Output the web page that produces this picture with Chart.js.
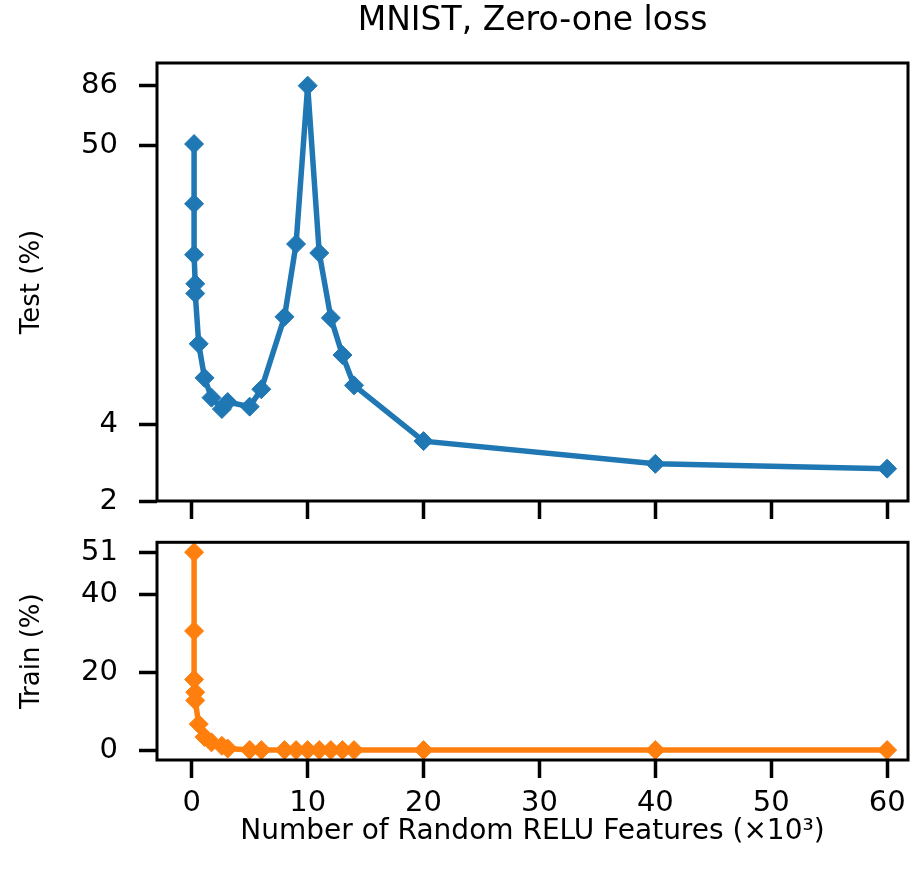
<!DOCTYPE html>
<html>
<head>
<meta charset="utf-8">
<script src="https://cdn.jsdelivr.net/npm/chart.js@4"></script>
<style>
  body { margin: 0; background: #fff; }
  #wrap { position: relative; width: 923px; height: 875px; }
  canvas { position: absolute; left: 0; }
</style>
</head>
<body>
<div id="wrap">
  <canvas id="testChart" width="923" height="545" style="top:0"></canvas>
  <canvas id="trainChart" width="923" height="375" style="top:500px"></canvas>
</div>
<script>
// number of random ReLU features, in thousands
const features = [0.2, 0.2, 0.2, 0.3, 0.3, 0.6, 1.1, 1.7, 2.6, 3.1, 5, 6, 8, 9, 10, 11, 12, 13, 14, 20, 40, 60];
// zero-one loss in %
const testErr = [50.7, 29.5, 18.6, 14.3, 13.1, 8.3, 6.1, 5.1, 4.6, 4.9, 4.7, 5.5, 10.6, 20.5, 86, 18.9, 10.5, 7.5, 5.7, 3.44, 2.8, 2.68];
const trainErr = [51, 30.7, 18.2, 14.9, 12.8, 6.7, 3.4, 2.0, 1.1, 0.4, 0.05, 0, 0, 0, 0, 0, 0, 0, 0, 0, 0, 0];

const xTicks = [0, 10, 20, 30, 40, 50, 60];
const testTicks = [2, 4, 50, 86];
const trainTicks = [0, 20, 40, 51];

const BLUE = '#1f77b4';
const ORANGE = '#ff7f0e';

Chart.defaults.font.family = 'DejaVu Sans';
Chart.defaults.color = '#000';

// black box around each plot area
const frame = {
  id: 'frame',
  afterDatasetsDraw(chart) {
    const { ctx, chartArea: a } = chart;
    ctx.save();
    ctx.strokeStyle = '#000';
    ctx.lineWidth = 3;
    ctx.strokeRect(a.left, a.top, a.right - a.left, a.bottom - a.top);
    ctx.restore();
  }
};

const tickGrid = {
  drawOnChartArea: false,
  drawTicks: true,
  tickLength: 18,
  tickWidth: 3.5,
  tickColor: '#000'
};

function points(ys) {
  return features.map((f, i) => ({ x: f, y: ys[i] }));
}

function dataset(ys, color) {
  return {
    data: points(ys),
    borderColor: color,
    backgroundColor: color,
    borderWidth: 5.5,
    pointStyle: 'rectRot',
    pointRadius: 9.5,
    pointBorderWidth: 1,
    pointBackgroundColor: color,
    pointBorderColor: color,
    tension: 0
  };
}

function xScale(showLabels, height) {
  return {
    type: 'linear',
    min: -3,
    max: 61.8,
    grid: tickGrid,
    border: { display: false },
    afterBuildTicks: s => { s.ticks = xTicks.map(v => ({ value: v })); },
    afterFit: s => { s.height = height; },
    ticks: {
      display: showLabels,
      padding: 8,
      font: { size: 29 },
      callback: v => String(v)
    },
    title: {
      display: showLabels,
      text: 'Number of Random RELU Features (\u00d710\u00b3)',
      font: { size: 28 },
      padding: { top: 0, bottom: 26 }
    }
  };
}

function yScale(type, min, max, ticks, label) {
  return {
    type: type,
    min: min,
    max: max,
    grid: tickGrid,
    border: { display: false },
    afterBuildTicks: s => { s.ticks = ticks.map(v => ({ value: v })); },
    afterFit: s => { s.width = 157; },
    ticks: {
      padding: 21,
      font: { size: 29 },
      callback: v => String(v)
    },
    title: {
      display: true,
      text: label,
      font: { size: 26 },
      padding: { top: 16.5, bottom: 0 }
    }
  };
}

new Chart(document.getElementById('testChart'), {
  type: 'line',
  data: { datasets: [dataset(testErr, BLUE)] },
  options: {
    responsive: false,
    animation: false,
    layout: { padding: { left: 0, right: 15, top: 0, bottom: 0 } },
    plugins: {
      legend: { display: false },
      tooltip: { enabled: false },
      title: {
        display: true,
        text: 'MNIST, Zero-one loss',
        fullSize: false,
        font: { size: 33, weight: 'normal' },
        color: '#000',
        padding: { top: 2, bottom: 21.4 }
      }
    },
    scales: {
      x: xScale(false, 44),
      y: yScale('logarithmic', 2, 105.6, testTicks, 'Test (%)')
    }
  },
  plugins: [frame]
});

new Chart(document.getElementById('trainChart'), {
  type: 'line',
  data: { datasets: [dataset(trainErr, ORANGE)] },
  options: {
    responsive: false,
    animation: false,
    layout: { padding: { left: 0, right: 15, top: 42.3, bottom: 0 } },
    plugins: {
      legend: { display: false },
      tooltip: { enabled: false }
    },
    scales: {
      x: xScale(true, 115),
      y: yScale('linear', -2.55, 53.55, trainTicks, 'Train (%)')
    }
  },
  plugins: [frame]
});
</script>
</body>
</html>
